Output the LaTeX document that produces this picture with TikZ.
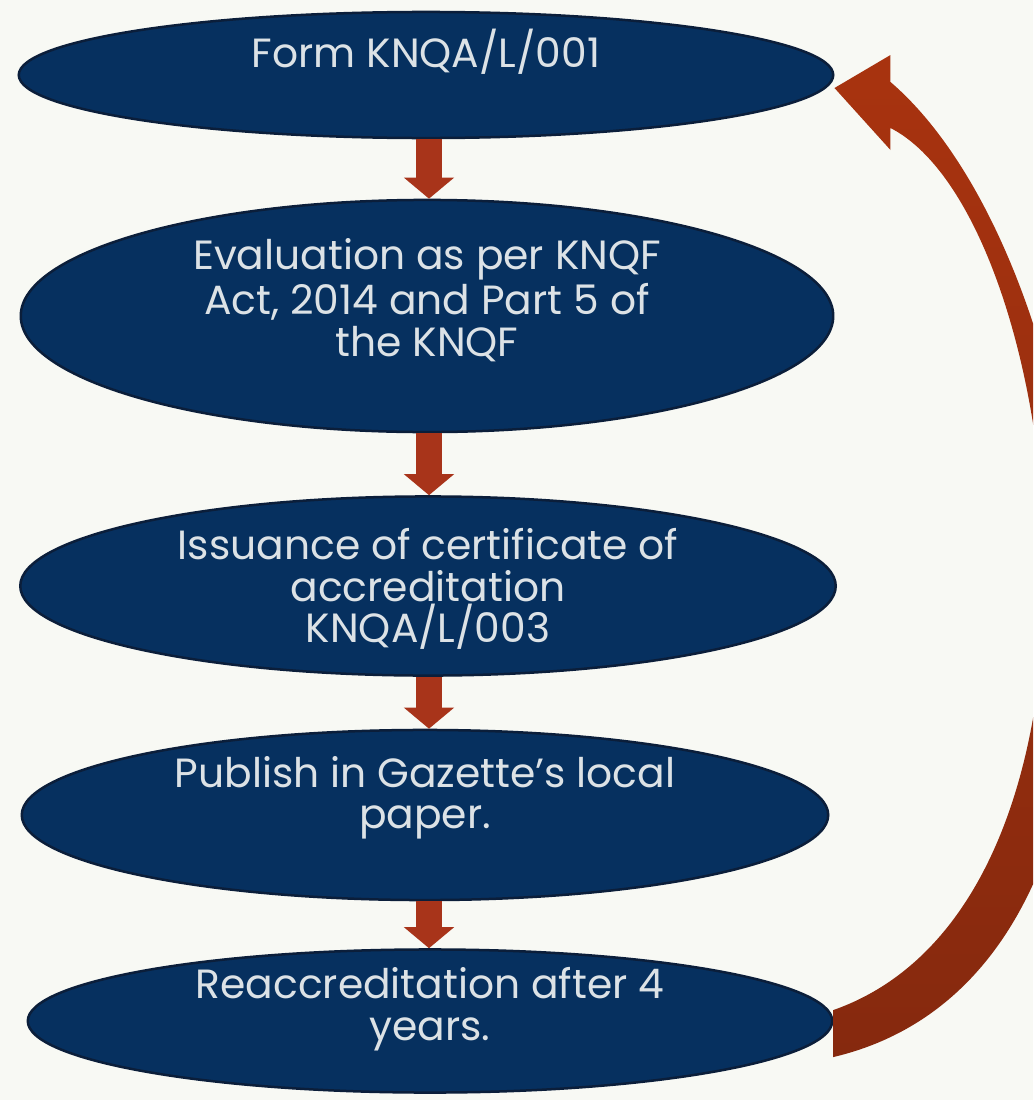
\documentclass[tikz,border=0pt]{standalone}
\usepackage{fontspec}
\setmainfont{Poppins}
\usetikzlibrary{shapes.geometric,arrows.meta,calc}
\definecolor{navy}{HTML}{06305F}
\definecolor{navyedge}{HTML}{0B1E3A}
\definecolor{txtcol}{HTML}{DCE2E6}
\definecolor{rust}{HTML}{A8341A}
\definecolor{rusttop}{HTML}{A8330F}
\definecolor{rustbot}{HTML}{86290E}
\definecolor{bgcol}{HTML}{F8F9F4}
\begin{document}
\begin{tikzpicture}[x=0.01cm,y=-0.01cm,
  ell/.style={ellipse, draw=navyedge, fill=navy, line width=0.025cm, inner sep=0pt},
  txt/.style={text=txtcol, align=center, font=\fontsize{11.6}{11.8}\selectfont},
  downarrow/.style={draw=rust, line width=0.26cm, -{Triangle[width=0.49cm,length=0.21cm]}}]
\useasboundingbox (0,0) rectangle (1033,1100);
\clip (0,0) rectangle (1033,1100);
\fill[bgcol] (0,0) rectangle (1033,1100);

\node[ell, minimum width=8.14cm, minimum height=1.26cm] (e1) at (426,75) {};
\node[ell, minimum width=8.12cm, minimum height=2.32cm] (e2) at (427,316) {};
\node[ell, minimum width=8.15cm, minimum height=1.79cm] (e3) at (428,586) {};
\node[ell, minimum width=8.06cm, minimum height=1.70cm] (e4) at (425,815) {};
\node[ell, minimum width=8.04cm, minimum height=1.43cm] (e5) at (430,1021) {};

\node[txt] (t1) at ($(e1.center)+(0,-23)$) {Form KNQA/L/001};
\node[txt] (t2) at ($(e2.center)+(0,-16)$) {Evaluation as per KNQF\\Act, 2014 and Part 5 of\\the KNQF};
\node[txt] (t3) at ($(e3.center)+(0,3)$) {Issuance of certificate of\\accreditation\\KNQA/L/003};
\node[txt] (t4) at ($(e4.center)+(0,-17)$) {Publish in Gazette’s local\\paper.};
\node[txt] (t5) at ($(e5.center)+(0,-12)$) {Reaccreditation after 4\\years.};

\draw[downarrow] ([xshift=0.03cm]e1.south) -- ([xshift=0.03cm]e1.south |- e2.north);
\draw[downarrow] ([xshift=0.02cm]e2.south) -- ([xshift=0.02cm]e2.south |- e3.north);
\draw[downarrow] ([xshift=0.01cm]e3.south) -- ([xshift=0.01cm]e3.south |- e4.north);
\draw[downarrow] ([xshift=0.04cm]e4.south) -- ([xshift=0.04cm]e4.south |- e5.north);

\coordinate (s) at (e5.east);
\coordinate (t) at (e1.east);
\shade[top color=rusttop, bottom color=rustbot]
  ($(s)+(0,-11)$) .. controls ($(s)+(312,-121)$) and ($(t)+(232,143)$) .. ($(t)+(56,53)$)
  -- ($(t)+(56,75)$) -- ($(t)+(0,13)$) -- ($(t)+(56,-20)$) -- ($(t)+(56,7)$)
  .. controls ($(t)+(274,194)$) and ($(s)+(368,-51)$) .. ($(s)+(0,36)$) -- cycle;
\end{tikzpicture}
\end{document}
